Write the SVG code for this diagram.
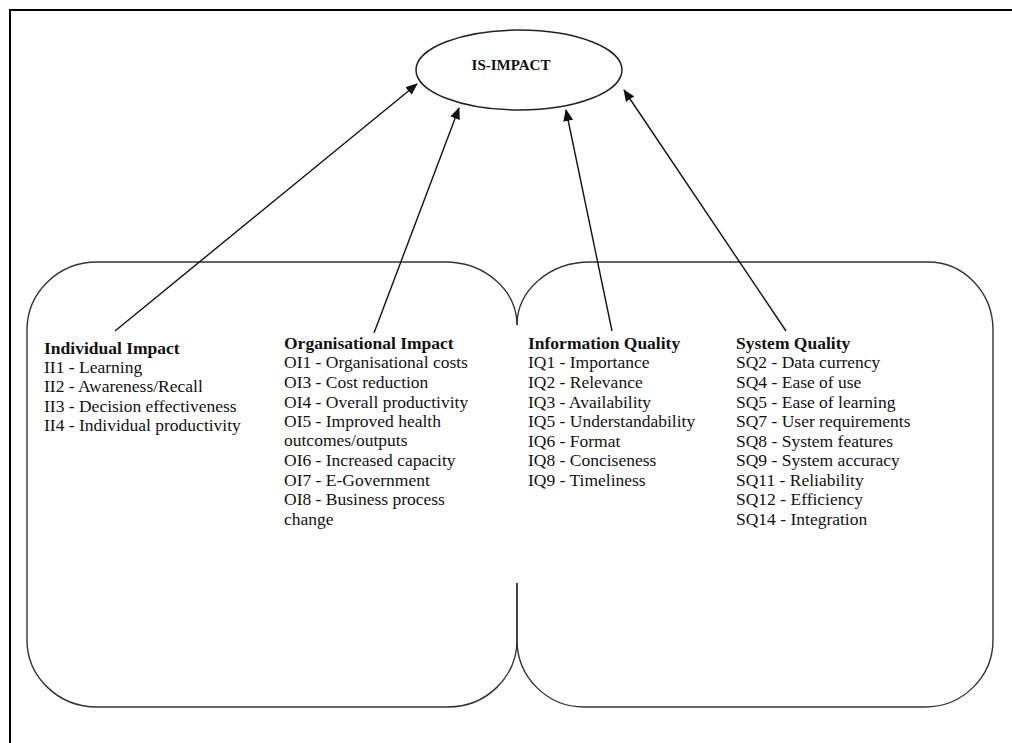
<svg xmlns="http://www.w3.org/2000/svg" width="1012" height="743" viewBox="0 0 1012 743">
<defs>
<style>
.t{font-family:"Liberation Serif","Times New Roman",serif;font-size:17.5px;fill:#111}
.h{font-weight:bold}
.title{font-family:"Liberation Serif","Times New Roman",serif;font-size:15px;font-weight:bold;fill:#111}
.shape{fill:none;stroke:#333;stroke-width:1.4}
.conn{stroke:#111;stroke-width:1.4;fill:none}
</style>
<marker id="ah" markerWidth="12" markerHeight="10" refX="11" refY="5" orient="auto" markerUnits="userSpaceOnUse">
<path d="M0,0 L12,5 L0,10 Z" fill="#111"/>
</marker>
</defs>
<rect width="1012" height="743" fill="#fff"/>
<path d="M10,743 L10,10 L1012,10" fill="none" stroke="#000" stroke-width="2"/>
<g id="is-impact">
<ellipse cx="519" cy="70" rx="103" ry="40" fill="#fff" stroke="#222" stroke-width="1.5"/>
<text class="title" x="511" y="70" text-anchor="middle">IS-IMPACT</text>
</g>
<g id="impact-region">
<path class="shape" d="M517,325 A72,63 0 0 0 445,262 L97,262 A70,68 0 0 0 27,330 L27,640 A70,67 0 0 0 97,707 L448,707 A69,67 0 0 0 517,640 L517,583"/>
</g>
<g id="quality-region">
<path class="shape" d="M517,583 L517,640 A67,67 0 0 0 584,707 L925,707 A68,67 0 0 0 993,640 L993,330 A65,68 0 0 0 928,262 L590,262 A73,63 0 0 0 517,325"/>
</g>
<g id="individual-impact">
<text class="t h" x="44" y="354">Individual Impact</text>
<text class="t" x="44" y="373">II1 - Learning</text>
<text class="t" x="44" y="392">II2 - Awareness/Recall</text>
<text class="t" x="44" y="412">II3 - Decision effectiveness</text>
<text class="t" x="44" y="431">II4 - Individual productivity</text>
</g>
<g id="organisational-impact">
<text class="t h" x="284" y="349">Organisational Impact</text>
<text class="t" x="284" y="368">OI1 - Organisational costs</text>
<text class="t" x="284" y="388">OI3 - Cost reduction</text>
<text class="t" x="284" y="408">OI4 - Overall productivity</text>
<text class="t" x="284" y="427">OI5 - Improved health</text>
<text class="t" x="284" y="446">outcomes/outputs</text>
<text class="t" x="284" y="466">OI6 - Increased capacity</text>
<text class="t" x="284" y="486">OI7 - E-Government</text>
<text class="t" x="284" y="505">OI8 - Business process</text>
<text class="t" x="284" y="525">change</text>
</g>
<g id="information-quality">
<text class="t h" x="528" y="349">Information Quality</text>
<text class="t" x="528" y="368">IQ1 - Importance</text>
<text class="t" x="528" y="388">IQ2 - Relevance</text>
<text class="t" x="528" y="408">IQ3 - Availability</text>
<text class="t" x="528" y="427">IQ5 - Understandability</text>
<text class="t" x="528" y="447">IQ6 - Format</text>
<text class="t" x="528" y="466">IQ8 - Conciseness</text>
<text class="t" x="528" y="486">IQ9 - Timeliness</text>
</g>
<g id="system-quality">
<text class="t h" x="736" y="349">System Quality</text>
<text class="t" x="736" y="368">SQ2 - Data currency</text>
<text class="t" x="736" y="388">SQ4 - Ease of use</text>
<text class="t" x="736" y="408">SQ5 - Ease of learning</text>
<text class="t" x="736" y="427">SQ7 - User requirements</text>
<text class="t" x="736" y="447">SQ8 - System features</text>
<text class="t" x="736" y="466">SQ9 - System accuracy</text>
<text class="t" x="736" y="486">SQ11 - Reliability</text>
<text class="t" x="736" y="505">SQ12 - Efficiency</text>
<text class="t" x="736" y="525">SQ14 - Integration</text>
</g>
<g id="connectors">
<line class="conn" x1="115" y1="331" x2="417" y2="84" marker-end="url(#ah)"/>
<line class="conn" x1="374" y1="333" x2="459" y2="108" marker-end="url(#ah)"/>
<line class="conn" x1="612" y1="331" x2="566" y2="110" marker-end="url(#ah)"/>
<line class="conn" x1="786" y1="331" x2="624" y2="90" marker-end="url(#ah)"/>
</g>
</svg>
